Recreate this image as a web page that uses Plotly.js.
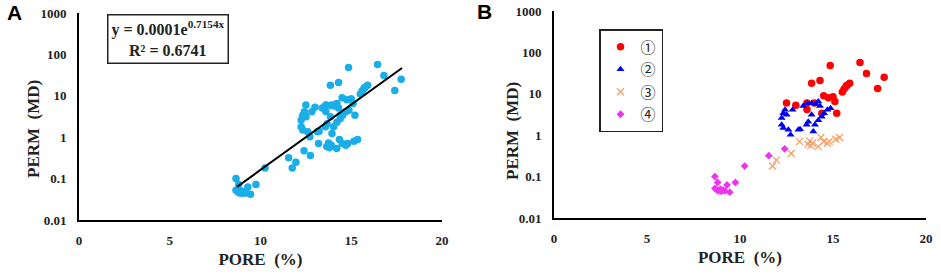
<!DOCTYPE html>
<html>
<head>
<meta charset="utf-8">
<script src="https://cdn.plot.ly/plotly-3.0.1.min.js"></script>
<style>html,body{margin:0;padding:0;background:#fff;}#chart{width:941px;height:275px;}</style>
</head>
<body>
<div id="chart"></div>
<script>
// Group ① (red circles)
var g1X = [12.5, 13.0, 13.6, 13.6, 14.0, 13.85, 14.3, 14.4, 14.5, 14.75, 14.85, 15.0, 15.1, 15.2, 15.5, 15.6, 15.7, 15.75, 15.9, 16.45, 16.8, 17.4, 17.75];
var g1Y = [6.0, 5.3, 6.0, 4.2, 6.0, 18, 21, 3.4, 9.0, 8.0, 48, 8.5, 6.5, 3.4, 11, 13, 15, 16, 18, 57, 31, 13.5, 25];
// Group ② (blue triangles)
var g2X = [12.33, 12.42, 12.51, 12.24, 12.24, 12.33, 12.6, 12.72, 12.83, 13.14, 13.23, 13.4, 13.58, 13.62, 13.67, 13.85, 13.85, 13.94, 14.03, 14.07, 14.21, 14.21, 14.3, 14.39, 14.52, 14.7, 14.87];
var g2Y = [3.4, 4.1, 3.1, 2.6, 1.8, 1.5, 1.35, 1.02, 4.1, 1.35, 1.4, 5.1, 1.8, 5.9, 2.1, 3.1, 5.9, 1.23, 1.78, 5.7, 6.5, 2.3, 5.1, 2.8, 3.4, 4.1, 4.5];
// Group ③ (orange crosses)
var g3X = [11.75, 11.95, 12.75, 13.2, 13.65, 13.75, 13.8, 13.9, 14.2, 14.35, 14.5, 14.7, 14.8, 15.15, 15.35];
var g3Y = [0.18, 0.25, 0.36, 0.70, 0.60, 0.72, 0.56, 0.64, 0.53, 0.88, 0.70, 0.64, 0.70, 0.80, 0.88];
// Group ④ (magenta diamonds)
var g4X = [8.65, 8.8, 8.65, 8.75, 8.85, 8.95, 9.0, 9.1, 9.2, 9.3, 9.45, 9.75, 10.25, 11.55, 12.4];
var g4Y = [0.10, 0.072, 0.052, 0.048, 0.045, 0.050, 0.044, 0.047, 0.045, 0.063, 0.042, 0.072, 0.18, 0.32, 0.47];
// Fitted trend line endpoints (panel A)
var trendX = [8.7, 17.8];
var trendY = [0.063, 47];
// Axis ticks
var xTickVals = [0, 5, 10, 15, 20];
var xTickText = ['0', '5', '10', '15', '20'];
var yTickVals = [0.01, 0.1, 1, 10, 100, 1000];
var yTickText = ['0.01', '0.1', '1', '10', '100', '1000'];
var groupNames = ['①', '②', '③', '④'];

var allX = g1X.concat(g2X, g3X, g4X);
var allY = g1Y.concat(g2Y, g3Y, g4Y);

var serif = 'Liberation Serif, Times New Roman, serif';

var traces = [
  {x: allX, y: allY, xaxis: 'x', yaxis: 'y', type: 'scatter', mode: 'markers', showlegend: false,
   marker: {symbol: 'circle', size: 7.5, color: '#1AAEE8'}},
  {x: trendX, y: trendY, xaxis: 'x', yaxis: 'y', type: 'scatter', mode: 'lines', showlegend: false,
   line: {color: '#000', width: 2}},
  {x: g1X, y: g1Y, xaxis: 'x2', yaxis: 'y2', type: 'scatter', mode: 'markers', name: groupNames[0],
   marker: {symbol: 'circle', size: 7.5, color: '#FF0000'}},
  {x: g2X, y: g2Y, xaxis: 'x2', yaxis: 'y2', type: 'scatter', mode: 'markers', name: groupNames[1],
   marker: {symbol: 'triangle-up', size: 7, color: '#0000F0'}},
  {x: g3X, y: g3Y, xaxis: 'x2', yaxis: 'y2', type: 'scatter', mode: 'markers', name: groupNames[2],
   marker: {symbol: 'x-thin', size: 7, color: '#F4A06A', line: {color: '#F4A06A', width: 1.3}}},
  {x: g4X, y: g4Y, xaxis: 'x2', yaxis: 'y2', type: 'scatter', mode: 'markers', name: groupNames[3],
   marker: {symbol: 'diamond', size: 6, color: '#EE33EE'}}
];

function xax(domain, anchor) {
  return {domain: domain, anchor: anchor, range: [0, 20], showgrid: false, zeroline: false,
    showline: true, linecolor: '#000', linewidth: 2, ticks: '', tickmode: 'array',
    tickvals: xTickVals, ticktext: xTickText, ticklabelstandoff: 7,
    tickfont: {family: serif, size: 13, color: '#222', weight: 'bold'},
    title: {text: 'PORE\u00a0\u00a0(%)', standoff: 7, font: {family: serif, size: 17, color: '#222', weight: 'bold'}}};
}
function yax(domain, anchor) {
  return {domain: domain, anchor: anchor, type: 'log', range: [-2, 3], showgrid: false, zeroline: false,
    showline: true, linecolor: '#000', linewidth: 2, ticks: '', tickmode: 'array',
    tickvals: yTickVals, ticktext: yTickText, ticklabelstandoff: 8,
    tickfont: {family: serif, size: 13, color: '#222', weight: 'bold'}};
}

var layout = {
  width: 941, height: 275, margin: {l: 0, r: 0, t: 0, b: 0},
  paper_bgcolor: '#fff', plot_bgcolor: '#fff',
  xaxis: xax([79/941, 442/941], 'y'),
  yaxis: yax([1 - 220/275, 1 - 13/275], 'x'),
  xaxis2: xax([554/941, 926/941], 'y2'),
  yaxis2: yax([1 - 218/275, 1 - 11/275], 'x2'),
  showlegend: true,
  legend: {x: 599/941, y: 1 - 29/275, xanchor: 'left', yanchor: 'top', bgcolor: '#fff',
    bordercolor: '#222', borderwidth: 1.5, itemwidth: 30,
    font: {family: 'Noto Sans CJK SC, DejaVu Sans, sans-serif', size: 15, color: '#222'}},
  annotations: [
    {text: 'PERM\u00a0\u00a0(MD)', xref: 'paper', yref: 'paper', x: 33/941, y: 1 - 129/275, textangle: -90,
     xanchor: 'center', yanchor: 'middle',
     showarrow: false, font: {family: serif, size: 17, color: '#222', weight: 'bold'}},
    {text: 'PERM\u00a0\u00a0(MD)', xref: 'paper', yref: 'paper', x: 512/941, y: 1 - 131/275, textangle: -90,
     xanchor: 'center', yanchor: 'middle',
     showarrow: false, font: {family: serif, size: 17, color: '#222', weight: 'bold'}},
    {text: 'A', xref: 'paper', yref: 'paper', x: 14/941, y: 1 - 12.5/275, xanchor: 'center', yanchor: 'middle',
     showarrow: false, font: {family: 'Liberation Sans, Arial, sans-serif', size: 21, color: '#000', weight: 'bold'}},
    {text: 'B', xref: 'paper', yref: 'paper', x: 484/941, y: 1 - 11.5/275, xanchor: 'center', yanchor: 'middle',
     showarrow: false, font: {family: 'Liberation Sans, Arial, sans-serif', size: 21, color: '#000', weight: 'bold'}},
    {text: 'y = 0.0001e<sup>0.7154x</sup><br>R² = 0.6741', xref: 'paper', yref: 'paper',
     x: 168/941, y: 1 - 38.5/275, xanchor: 'center', yanchor: 'middle', showarrow: false, align: 'center',
     bordercolor: '#222', borderwidth: 1.5, borderpad: 3, bgcolor: '#fff',
     font: {family: serif, size: 16, color: '#222', weight: 'bold'}}
  ]
};

Plotly.newPlot('chart', traces, layout, {displayModeBar: false, staticPlot: true});
</script>
</body>
</html>
